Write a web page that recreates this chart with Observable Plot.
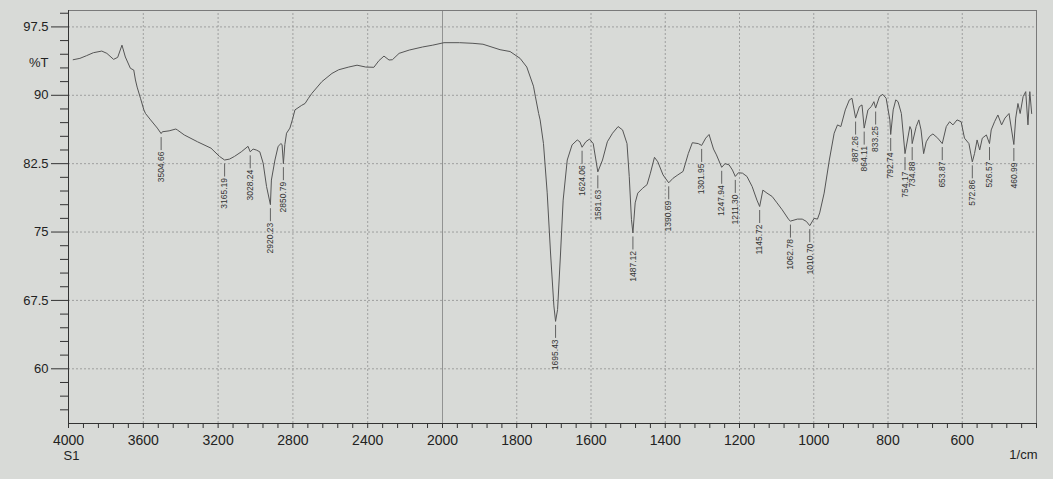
<!DOCTYPE html>
<html><head><meta charset="utf-8">
<script src="https://cdn.jsdelivr.net/npm/d3@7"></script>
<script src="https://cdn.jsdelivr.net/npm/@observablehq/plot@0.6"></script>
<style>
html,body{margin:0;padding:0;background:#d8dad7;}
#chart{width:1053px;height:479px;}
svg{display:block;}
</style></head><body><div id="chart"></div>
<script>
// Spectrum (wavenumber in 1/cm, %T)
const wavenumber = [3975,3939,3903,3867,3822,3795,3759,3737,3714,3696,3669,3651,3642,3633,3615,3597,3588,3561,3525,3504.66,3498,3462,3426,3418,3381,3310,3238,3193,3165.19,3139,3112,3076,3040,3028.24,3013,2996,2977,2959,2941,2920.23,2915,2896,2879,2864,2858,2850.79,2843,2834,2816,2803,2789,2753,2735,2717,2699,2645,2591,2555,2501,2457,2411,2367,2340,2313,2286,2268,2232,2178,2106,2052,1996,1954,1918,1891,1845,1818,1791,1773,1755,1750,1741,1737,1728,1718,1709,1700,1695.43,1690,1682,1675,1664,1651,1637,1630,1624.06,1614,1604,1594,1581.63,1569,1556,1542,1527,1515,1503,1497,1491,1487.12,1481,1474,1461,1449,1440,1429,1420,1406,1390.69,1379,1366,1352,1338,1327,1311,1301.95,1291,1282,1270,1262,1247.94,1239,1228,1219,1211.30,1203,1192,1180,1166,1153,1145.72,1137,1126,1112,1099,1085,1067,1062.78,1044,1031,1020,1010.70,999,990,984,972,958,945,936,927,915,904,897,887.26,877,870,864.11,854,845,838,833.25,823,814,805,795,792.74,786,779,773,764,754.17,741,737,734.88,724,717,711,704,697,688,679,666,653.87,643,634,625,614,603,594,582,572.86,567,560,553,546,535,526.57,522,513,504,494,485,474,460.99,456,450,444,436,429,423,418,413];
const transmittance = [93.9,94.05,94.35,94.67,94.85,94.6,93.94,94.16,95.5,94.2,92.96,92.77,91.68,90.9,89.67,88.4,88.0,87.3,86.4,85.8,86.0,86.1,86.3,86.2,85.65,84.9,84.2,83.3,82.9,83.0,83.3,83.8,84.4,83.8,84.1,84.0,83.8,82.55,80.0,78.0,80.7,82.9,84.4,84.7,84.6,82.5,84.6,85.84,86.4,87.3,88.4,88.9,89.1,89.67,90.2,91.5,92.4,92.8,93.1,93.3,93.1,93.07,93.8,94.3,93.87,93.9,94.6,94.96,95.3,95.5,95.77,95.77,95.7,95.6,95.0,94.8,94.05,93.1,91.0,89.9,88.0,87.3,84.7,79.3,72.7,66.9,65.2,66.5,72.7,78.5,82.9,84.56,85.1,84.9,84.3,84.9,85.2,84.7,81.6,82.9,84.9,85.84,86.57,86.2,84.7,81.1,76.35,74.9,78.2,79.27,79.8,80.2,81.46,83.2,82.7,81.27,80.4,80.9,81.27,81.65,83.6,84.8,84.7,84.5,85.3,85.7,84.1,83.46,82.1,82.5,82.37,81.8,81.1,81.5,81.46,81.1,80.0,78.5,77.8,79.6,79.27,78.9,78.2,77.44,76.35,76.2,76.42,76.42,76.17,75.7,76.5,76.42,77.1,79.27,82.9,85.84,86.75,86.57,88.4,89.5,89.67,87.5,88.76,88.94,86.4,88.4,88.76,89.3,88.6,89.86,90.1,89.67,87.3,85.7,88.4,89.5,89.3,88.0,83.6,86.57,86.2,84.7,86.57,87.3,86.2,83.6,84.9,85.5,85.76,85.3,84.7,86.57,87.1,86.75,87.3,87.1,85.3,84.7,82.7,83.6,85.1,84.0,85.3,85.65,84.7,86.2,87.1,87.84,86.75,87.5,88.0,84.6,87.5,89.1,88.0,89.86,90.4,86.75,90.4,88.0];

// Peak annotations
const peakLabels = ["3504.66","3165.19","3028.24","2920.23","2850.79","1695.43","1624.06","1581.63","1487.12","1390.69","1301.95","1247.94","1211.30","1145.72","1062.78","1010.70","887.26","864.11","833.25","792.74","754.17","734.88","653.87","572.86","526.57","460.99"];
const peakT = [85.8,82.9,83.8,78.0,82.5,65.2,84.3,81.6,74.9,80.4,84.5,82.1,81.1,77.8,76.2,75.7,87.5,86.4,88.6,85.7,83.6,84.7,84.7,82.7,84.7,84.6];

// Axis ticks
const xMajorTicks = [4000,3600,3200,2800,2400,2000,1800,1600,1400,1200,1000,800,600];
const xGridTicks = [3600,3200,2800,2400,1800,1600,1400,1200,1000,800,600];
const yMajorTicks = [60,67.5,75,82.5,90,97.5];

const xMinorTicks = d3.range(4000, 2000, -80).concat(d3.range(2000, 399, -40));
const yMinorTicks = d3.range(55.5, 99.1, 1.5);

const spectrum = wavenumber.map((w, i) => ({wn: w, t: transmittance[i]}));
const peaks = peakLabels.map((s, i) => ({wn: parseFloat(s), t: peakT[i], label: s}));

const Y0 = 54, Y1 = 99.3;
const pxY = (Y1 - Y0) / 413; // %T per pixel
const pxX = 2000 / 374;      // 1/cm per pixel (upper segment)
const gridStyle = {stroke: "#909090", strokeWidth: 0.8, strokeDasharray: "2,2"};
const font = "'Liberation Sans', Arial, sans-serif";

const chart = Plot.plot({
  width: 1053, height: 479,
  marginLeft: 68, marginRight: 17, marginTop: 10, marginBottom: 56,
  style: {background: "transparent", fontFamily: font, color: "#222"},
  x: {type: "linear", domain: [4000, 2000, 400], range: [68, 442, 1036], axis: null},
  y: {domain: [Y0, Y1], range: [423, 10], axis: null},
  marks: [
    Plot.ruleY(yMajorTicks, {x1: 4000, x2: 400, ...gridStyle}),
    Plot.ruleX(xGridTicks, {y1: Y0, y2: Y1, ...gridStyle}),
    Plot.ruleX([2000], {y1: Y0, y2: Y1, stroke: "#808080", strokeWidth: 0.8}),
    Plot.frame({stroke: "#7a7a7a", strokeWidth: 1}),
    Plot.ruleX([4000], {y1: Y0, y2: Y1, stroke: "#333", strokeWidth: 1}),
    Plot.ruleY([Y0], {x1: 4000, x2: 400, stroke: "#333", strokeWidth: 1}),
    // y ticks
    Plot.ruleY(yMajorTicks, {x1: 4000 + 17 * pxX, x2: 4000, stroke: "#333"}),
    Plot.ruleY(yMinorTicks.filter(v => !yMajorTicks.includes(v)), {x1: 4000 + 8 * pxX, x2: 4000, stroke: "#333"}),
    // x ticks
    Plot.ruleX(xMinorTicks, {y1: Y0, y2: Y0 - 5 * pxY, stroke: "#333"}),
    // labels
    Plot.text(yMajorTicks, {x: 4000, y: d => d, dx: -20, textAnchor: "end", text: d => String(d), fontSize: 13, fill: "#222"}),
    Plot.text(["%T"], {x: 4000, y: 93.6, dx: -20, textAnchor: "end", text: d => d, fontSize: 13, fill: "#222"}),
    Plot.text(xMajorTicks, {x: d => d, y: Y0, dy: 17, text: d => String(d), fontSize: 14, fill: "#222"}),
    Plot.text(["S1"], {x: 4000, y: Y0, dy: 32, dx: 3, text: d => d, fontSize: 13, fill: "#222"}),
    Plot.text(["1/cm"], {x: 400, y: Y0, dy: 31, dx: 1, textAnchor: "end", text: d => d, fontSize: 13, fill: "#222"}),
    // spectrum
    Plot.line(spectrum, {x: "wn", y: "t", stroke: "#555", strokeWidth: 1}),
    // peak markers
    Plot.ruleX(peaks, {x: "wn", y1: d => d.t - 4 * pxY, y2: d => d.t - 17 * pxY, stroke: "#444", strokeWidth: 0.8}),
    Plot.text(peaks, {x: "wn", y: d => d.t - 18 * pxY, text: "label", rotate: -90, textAnchor: "end", lineAnchor: "middle", fontSize: 8.5, fill: "#333"})
  ]
});
document.getElementById("chart").appendChild(chart);
</script>
</body></html>
